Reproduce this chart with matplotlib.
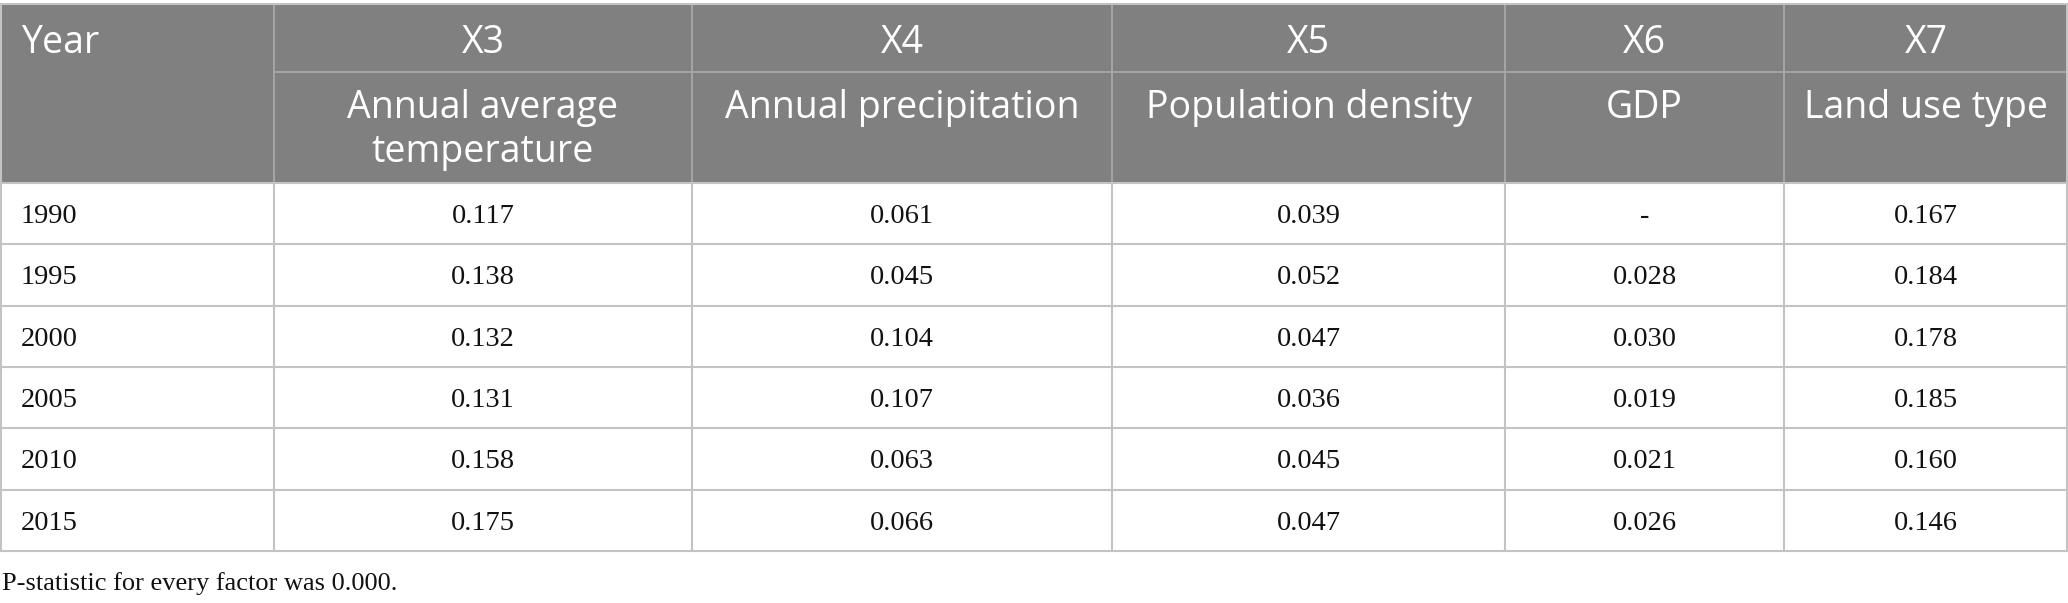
import matplotlib.pyplot as plt
from matplotlib.patches import Rectangle

years = ['1990', '1995', '2000', '2005', '2010', '2015']
codes = ['X3', 'X4', 'X5', 'X6', 'X7']
factors = ['Annual average\ntemperature', 'Annual precipitation', 'Population density', 'GDP', 'Land use type']
x3 = [0.117, 0.138, 0.132, 0.131, 0.158, 0.175]
x4 = [0.061, 0.045, 0.104, 0.107, 0.063, 0.066]
x5 = [0.039, 0.052, 0.047, 0.036, 0.045, 0.047]
x6 = [None, 0.028, 0.030, 0.019, 0.021, 0.026]
x7 = [0.167, 0.184, 0.178, 0.185, 0.160, 0.146]
footnote = 'P-statistic for every factor was 0.000.'

columns = [x3, x4, x5, x6, x7]

# layout in pixels
W, H = 2068, 603
col_edges = [0, 274, 692, 1112, 1505, 1784, W]
top, mid, head_bot = 4, 72, 183
row_h = 61.33
header_bg = '#808080'
head_line = '#a6a6a6'
grid = '#c3c3c3'
sans = 'Open Sans'
serif = 'Liberation Serif'

fig = plt.figure(figsize=(W / 100, H / 100), dpi=100)
ax = fig.add_axes([0, 0, 1, 1])
ax.set_xlim(0, W)
ax.set_ylim(H, 0)
ax.axis('off')

bottom = head_bot + row_h * len(years)

# header block
ax.add_patch(Rectangle((0, top), W, head_bot - top, facecolor=header_bg, edgecolor='none'))
ax.hlines(mid, col_edges[1], W, color=head_line, lw=1.4)
ax.vlines(col_edges[1:-1], top, head_bot, color=head_line, lw=1.4)

# body grid
for i in range(len(years) + 1):
    ax.hlines(head_bot + i * row_h, 0, W, color=grid, lw=1.5)
ax.vlines(col_edges[1:-1], head_bot, bottom, color=grid, lw=1.5)
ax.vlines([0.7, W - 0.7], top, bottom, color=grid, lw=1.5)
ax.hlines(top, 0, W, color=grid, lw=1.5)

# header text
ax.text(21, 53, 'Year', family=sans, fontsize=27, color='white', ha='left', va='baseline')
for j, (code, name) in enumerate(zip(codes, factors)):
    cx = (col_edges[j + 1] + col_edges[j + 2]) / 2
    ax.text(cx, 53, code, family=sans, fontsize=27, color='white', ha='center', va='baseline')
    for k, line in enumerate(name.split('\n')):
        ax.text(cx, 118 + k * 44, line, family=sans, fontsize=27, color='white',
                ha='center', va='baseline')

# body text
for i, year in enumerate(years):
    yb = head_bot + i * row_h + row_h / 2 + 9.5
    ax.text(21, yb, year, family=serif, fontsize=20.5, color='#111111', ha='left', va='baseline')
    for j, col in enumerate(columns):
        cx = (col_edges[j + 1] + col_edges[j + 2]) / 2
        v = col[i]
        label = '-' if v is None else f'{v:.3f}'
        ax.text(cx, yb, label, family=serif, fontsize=20.5, color='#111111', ha='center', va='baseline')

ax.text(2, 590, footnote, family=serif, fontsize=19, color='#111111', ha='left', va='baseline')

fig.savefig('out.png', dpi=100, facecolor='white')
